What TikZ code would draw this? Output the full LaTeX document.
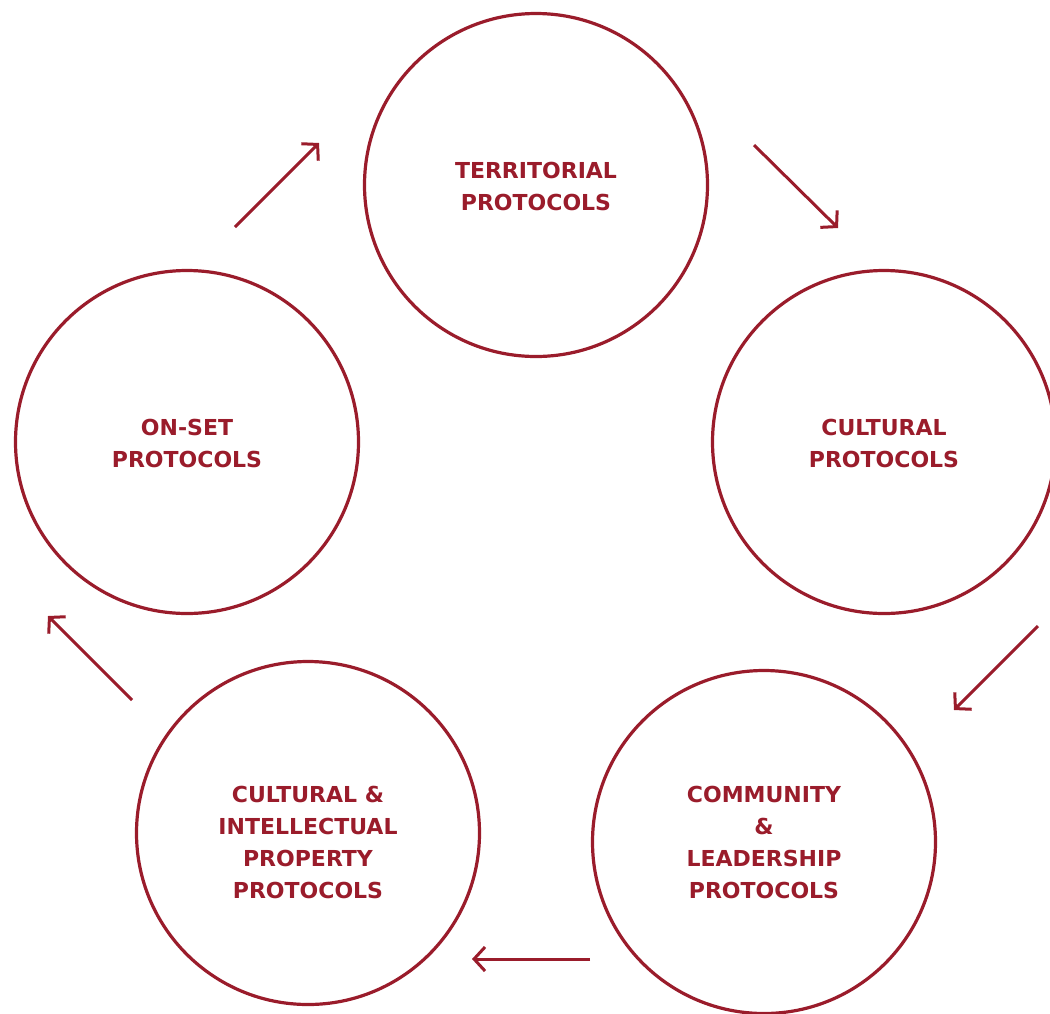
\documentclass[tikz,border=0pt]{standalone}
\usepackage{fontspec}
\setmainfont{DejaVu Sans}
\usetikzlibrary{arrows.meta}
\definecolor{wine}{HTML}{9A1C2B}
\tikzset{
  x=1pt,y=-1pt,
  ring/.style={circle,draw=wine,line width=3.2pt,minimum size=343pt,inner sep=0pt},
  lbl/.style={text=wine,font=\bfseries\fontsize{22}{32}\selectfont,align=center},
  flow/.style={draw=wine,line width=3pt,-{Straight Barb[length=11pt,width=24pt,line width=3pt]}}
}
\begin{document}
\begin{tikzpicture}
\useasboundingbox (0,0) rectangle (1050,1013);
\node[ring] (top) at (536,185) {};
\node[ring] (right) at (884,442) {};
\node[ring] (left) at (187,442) {};
\node[ring] (bl) at (308,833) {};
\node[ring] (br) at (764,842) {};
\node[lbl] (ttop) at (536,186) {TERRITORIAL\\PROTOCOLS};
\node[lbl] (tright) at (884,443) {CULTURAL\\PROTOCOLS};
\node[lbl] (tleft) at (187,443) {ON-SET\\PROTOCOLS};
\node[lbl] (tbl) at (308,842) {CULTURAL \&\\INTELLECTUAL\\PROPERTY\\PROTOCOLS};
\node[lbl] (tbr) at (764,842) {COMMUNITY\\\&\\LEADERSHIP\\PROTOCOLS};
\coordinate (a1s) at (235,227); \coordinate (a1e) at (319,143);
\coordinate (a2s) at (754,145); \coordinate (a2e) at (838,228);
\coordinate (a3s) at (1038,626); \coordinate (a3e) at (954,710);
\coordinate (a4s) at (590,959); \coordinate (a4e) at (472,959);
\coordinate (a5s) at (132,700); \coordinate (a5e) at (48,616);
\draw[flow] (a1s) -- (a1e);
\draw[flow] (a2s) -- (a2e);
\draw[flow] (a3s) -- (a3e);
\draw[flow] (a4s) -- (a4e);
\draw[flow] (a5s) -- (a5e);
\end{tikzpicture}
\end{document}
